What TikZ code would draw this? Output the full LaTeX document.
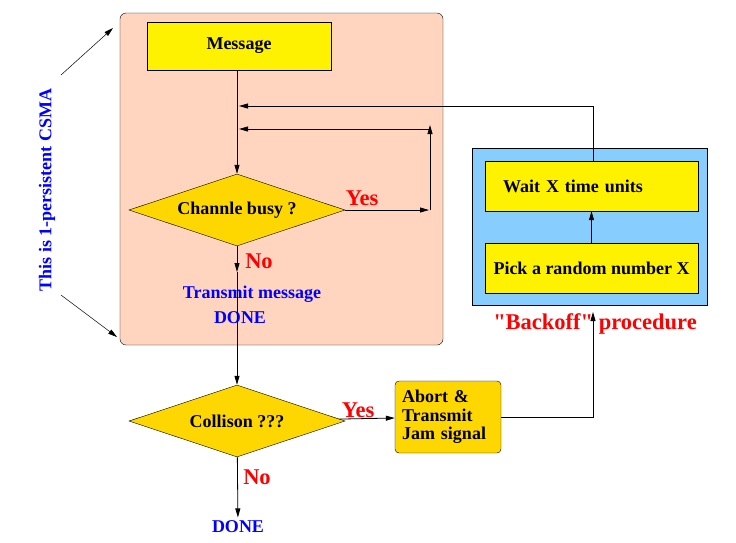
\documentclass[tikz,border=0pt]{standalone}
\usepackage{fontspec}
\setmainfont{Liberation Serif}[Ligatures=TeXOff]
\usepackage{tikz}
\usetikzlibrary{arrows.meta, shapes.geometric}
\definecolor{peach}{RGB}{255,213,192}
\definecolor{ltblue}{RGB}{135,206,255}
\definecolor{gold}{RGB}{255,215,0}
\tikzset{
    arr/.style={draw, line width=0.8pt, -{Triangle[length=9pt, width=5pt]}},
    yelbox/.style={draw, fill=yellow, minimum width=#1, minimum height=48pt},
    decision/.style={diamond, draw, fill=gold, aspect=3, inner sep=0pt, minimum width=216pt, minimum height=72pt},
    bluetext/.style={text=blue},
    redtext/.style={text=red, font=\bfseries\fontsize{22.5}{24}\selectfont}
}
\begin{document}
\begin{tikzpicture}[x=1pt, y=-1pt, font=\bfseries\fontsize{18}{18.5}\selectfont]
    \useasboundingbox (0,0) rectangle (736,542);
    % areas
    \node[draw, fill=peach, rounded corners=6pt, minimum width=323pt, minimum height=332pt] at (281.5, 179) (csma) {};
    \node[draw, fill=ltblue, minimum width=235pt, minimum height=157pt] at (589.5, 226.5) (backarea) {};
    % steps
    \node[yelbox=184pt] at (239, 46) (msg) {Message};
    \node[decision] at (237, 210) (busy) {Channle busy ?};
    \node[decision] at (237, 421) (coll) {Collison ???};
    \node[draw, fill=gold, rounded corners=4pt, minimum width=106pt, minimum height=72pt, text width=92pt, inner xsep=7pt, align=left] at (448, 417) (abort) {Abort \&\\Transmit\\Jam signal};
    \node[yelbox=213pt, minimum height=50pt, text width=177pt, inner xsep=18pt, align=left] at (591.5, 186) (wait) {Wait X time units};
    \node[yelbox=213pt, minimum height=50pt] at (591.5, 268) (pick) {Pick a random number X};
    % texts
    \node[bluetext, rotate=90] at (47, 190) (side) {This is 1-persistent CSMA};
    \node[bluetext] at (252, 294) (tx) {Transmit message};
    \node[bluetext] at (240, 318) (txdone) {DONE};
    \node[bluetext] at (238, 527) (done) {DONE};
    \node[redtext] at (362, 198) (yes1) {Yes};
    \node[redtext] at (259, 261) (no1) {No};
    \node[redtext] at (358, 410) (yes2) {Yes};
    \node[redtext] at (257, 477) (no2) {No};
    \node[redtext] at (595, 324) (backoff) {"Backoff" procedure};
    % points
    \coordinate (m1) at (239, 106);
    \coordinate (m2) at (239, 129);
    \coordinate (yc) at (430, 210);
    \coordinate (yt) at (430, 129);
    \coordinate (mid) at (237, 272);
    \coordinate (bk) at (593, 312);
    \coordinate (s1) at (61, 75);
    \coordinate (s2) at (113, 28);
    \coordinate (s3) at (61, 295);
    \coordinate (s4) at (117, 337);
    % connectors
    \draw [arr] (msg.south -| busy) -- (busy.north);
    \draw [arr] (busy.east) -- ([xshift=-1pt]yc);
    \draw [arr] (yc) -- ([yshift=4pt]yt);
    \draw [arr] (yt) -- (m2);
    \draw [arr] (wait.north -| bk) |- (m1);
    \draw [arr] (busy) -- (mid);
    \draw [arr] (mid) -- (coll);
    \draw [arr] (coll) -- (abort);
    \draw [arr] (coll) -- (done);
    \draw [arr] (abort.east) -| (bk);
    \draw [arr] (pick) -- (wait);
    \draw [arr, line width=0.5pt] (s1) -- (s2);
    \draw [arr, line width=0.5pt] (s3) -- (s4);
\end{tikzpicture}
\end{document}
